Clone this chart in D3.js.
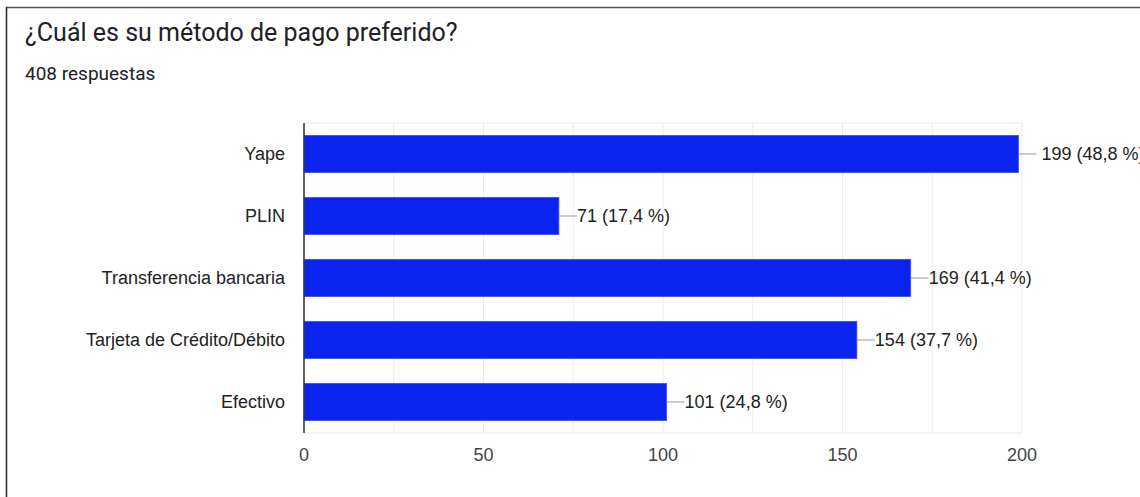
<!DOCTYPE html>
<html>
<head>
<meta charset="utf-8">
<script src="https://cdn.jsdelivr.net/npm/d3@7"></script>
<style>
  body { margin: 0; background: #fff; overflow: hidden; }
  svg { display: block; }
</style>
</head>
<body>
<svg id="chart"></svg>
<script>
const categories = ["Yape", "PLIN", "Transferencia bancaria", "Tarjeta de Crédito/Débito", "Efectivo"];
const counts = [199, 71, 169, 154, 101];
const percents = ["48,8 %", "17,4 %", "41,4 %", "37,7 %", "24,8 %"];
const xTicks = [0, 50, 100, 150, 200];
const gridTicks = [0, 25, 50, 75, 100, 125, 150, 175, 200];
const title = "¿Cuál es su método de pago preferido?";
const subtitle = "408 respuestas";

const width = 1140, height = 497;
const margin = { top: 123, right: 118, bottom: 64, left: 304 };

const svg = d3.select("#chart")
    .attr("width", width)
    .attr("height", height);

// card border (top and left only visible)
svg.append("line")
    .attr("x1", 6).attr("x2", width)
    .attr("y1", 7.5).attr("y2", 7.5)
    .attr("stroke", "#555").attr("stroke-width", 1.5);
svg.append("line")
    .attr("x1", 6.5).attr("x2", 6.5)
    .attr("y1", 7).attr("y2", height)
    .attr("stroke", "#222").attr("stroke-width", 1.5);

svg.append("text")
    .attr("x", 25).attr("y", 41)
    .attr("font-family", "Roboto, sans-serif")
    .attr("font-size", 25)
    .attr("fill", "#202124")
    .text(title);

svg.append("text")
    .attr("x", 25).attr("y", 80)
    .attr("font-family", "Roboto, sans-serif")
    .attr("font-size", 19)
    .attr("fill", "#202124")
    .text(subtitle);

const plotW = width - margin.left - margin.right;
const plotH = height - margin.top - margin.bottom;

const x = d3.scaleLinear().domain([0, 200]).range([0, plotW]);
const y = d3.scaleBand().domain(categories).range([0, plotH]).paddingInner(0.4).paddingOuter(0.2);

const g = svg.append("g").attr("transform", `translate(${margin.left},${margin.top})`);

// grid
g.selectAll("line.grid")
    .data(gridTicks)
    .join("line")
    .attr("class", "grid")
    .attr("x1", d => x(d)).attr("x2", d => x(d))
    .attr("y1", 0).attr("y2", plotH)
    .attr("stroke", "#ebebeb").attr("stroke-width", 1);
g.selectAll("line.hgrid")
    .data([0, plotH])
    .join("line")
    .attr("class", "hgrid")
    .attr("x1", 0).attr("x2", x(200))
    .attr("y1", d => d).attr("y2", d => d)
    .attr("stroke", "#ebebeb").attr("stroke-width", 1);

// bars
g.selectAll("rect.bar")
    .data(counts)
    .join("rect")
    .attr("class", "bar")
    .attr("x", 0)
    .attr("y", (d, i) => y(categories[i]))
    .attr("width", d => x(d))
    .attr("height", y.bandwidth())
    .attr("fill", "#0a23ef")
    .attr("stroke", "#3550f3")
    .attr("stroke-width", 0.8);

// leader lines and value labels
g.selectAll("line.leader")
    .data(counts)
    .join("line")
    .attr("class", "leader")
    .attr("x1", d => x(d)).attr("x2", d => x(d) + 18)
    .attr("y1", (d, i) => y(categories[i]) + y.bandwidth() / 2)
    .attr("y2", (d, i) => y(categories[i]) + y.bandwidth() / 2)
    .attr("stroke", "#999").attr("stroke-width", 1);

g.selectAll("text.val")
    .data(counts)
    .join("text")
    .attr("class", "val")
    .attr("x", d => x(d) + (d === 199 ? 23 : 18))
    .attr("y", (d, i) => y(categories[i]) + y.bandwidth() / 2)
    .attr("dy", "0.35em")
    .attr("font-family", "Arial, 'Liberation Sans', sans-serif")
    .attr("font-size", 18)
    .attr("fill", "#222")
    .text((d, i) => `${d} (${percents[i]})`);

// category labels
g.selectAll("text.cat")
    .data(categories)
    .join("text")
    .attr("class", "cat")
    .attr("x", -19)
    .attr("y", d => y(d) + y.bandwidth() / 2)
    .attr("dy", "0.35em")
    .attr("text-anchor", "end")
    .attr("font-family", "Arial, 'Liberation Sans', sans-serif")
    .attr("font-size", 18)
    .attr("fill", "#222")
    .text(d => d);

// x tick labels
g.selectAll("text.tick")
    .data(xTicks)
    .join("text")
    .attr("class", "tick")
    .attr("x", d => x(d))
    .attr("y", plotH + 28)
    .attr("text-anchor", "middle")
    .attr("font-family", "Arial, 'Liberation Sans', sans-serif")
    .attr("font-size", 18)
    .attr("fill", "#444")
    .text(d => d);

// baseline axis
g.append("line")
    .attr("x1", 0).attr("x2", 0)
    .attr("y1", 0).attr("y2", plotH)
    .attr("stroke", "#333").attr("stroke-width", 1.5);
</script>
</body>
</html>
